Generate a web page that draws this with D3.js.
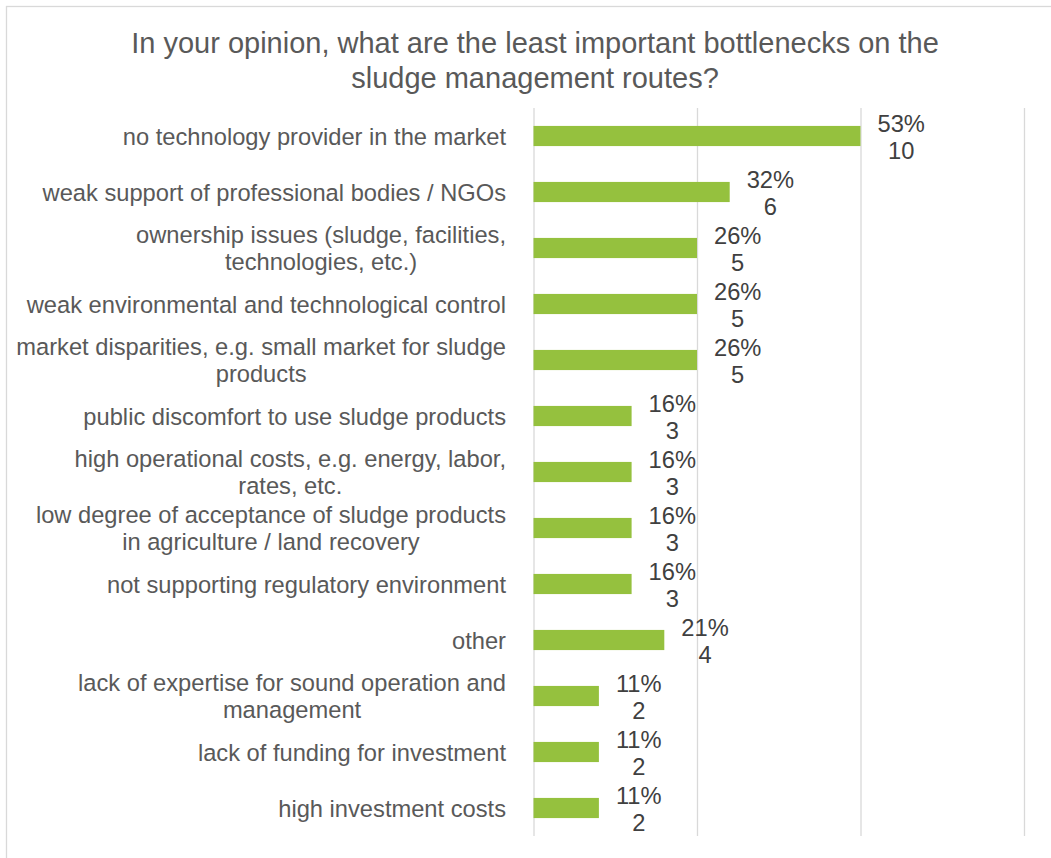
<!DOCTYPE html>
<html>
<head>
<meta charset="utf-8">
<script src="https://cdn.jsdelivr.net/npm/d3@7"></script>
<style>
  html, body { margin: 0; padding: 0; background: #ffffff; }
  svg { display: block; }
  text { font-family: "Liberation Sans", Arial, sans-serif; }
</style>
</head>
<body>
<svg id="chart" width="1051" height="858"></svg>
<script>
// Survey answers: least important bottlenecks on the sludge management routes
const titleLines = [
  "In your opinion, what are the least important bottlenecks on the",
  "sludge management routes?"
];
const categories = [
  "no technology provider in the market",
  "weak support of professional bodies / NGOs",
  "ownership issues (sludge, facilities,\ntechnologies, etc.)",
  "weak environmental and technological control",
  "market disparities, e.g. small market for sludge\nproducts",
  "public discomfort to use sludge products",
  "high operational costs, e.g. energy, labor,\nrates, etc.",
  "low degree of acceptance of sludge products\nin agriculture / land recovery",
  "not supporting regulatory environment",
  "other",
  "lack of expertise for sound operation and\nmanagement",
  "lack of funding for investment",
  "high investment costs"
];
const counts = [10, 6, 5, 5, 5, 3, 3, 3, 3, 4, 2, 2, 2];
const percents = ["53%", "32%", "26%", "26%", "26%", "16%", "16%", "16%", "16%", "21%", "11%", "11%", "11%"];
const gridTicks = [0, 5, 10, 15];

const svg = d3.select("#chart");
const plot = { left: 533.5, right: 1024, top: 108, bottom: 836 };

// chart frame (left and top edges visible)
svg.append("rect")
  .attr("x", 6.5).attr("y", 6.5)
  .attr("width", 1200).attr("height", 1000)
  .attr("fill", "none").attr("stroke", "#d9d9d9").attr("stroke-width", 1.3);

// title
svg.append("text")
  .attr("x", 535).attr("y", 53)
  .attr("text-anchor", "middle")
  .attr("fill", "#595959")
  .style("font-size", "29px")
  .selectAll("tspan").data(titleLines).join("tspan")
  .attr("x", 535)
  .attr("dy", (d, i) => i === 0 ? 0 : 35)
  .text(d => d);

const x = d3.scaleLinear().domain([0, 15]).range([plot.left, plot.right]);
const y = d3.scaleBand().domain(categories)
  .range([plot.top, plot.bottom])
  .paddingInner(0.64).paddingOuter(0.32);

// vertical gridlines
svg.append("g")
  .attr("transform", `translate(0,${plot.bottom})`)
  .call(d3.axisBottom(x).tickValues(gridTicks).tickSize(-(plot.bottom - plot.top)).tickFormat(""))
  .call(g => g.select(".domain").remove())
  .call(g => g.selectAll(".tick line").attr("stroke", "#d9d9d9").attr("stroke-width", 1.3));

// bars
svg.append("g").selectAll("rect")
  .data(categories)
  .join("rect")
  .attr("x", x(0))
  .attr("y", d => y(d))
  .attr("width", (d, i) => x(counts[i]) - x(0))
  .attr("height", y.bandwidth())
  .attr("fill", "#95c13e");

// category labels, wrapped lines centred within a right-aligned block
const labelRight = 506;
const lineH = 27;
const catG = svg.append("g").style("font-size", "23.7px").attr("fill", "#595959");
categories.forEach(c => {
  const lines = c.split("\n");
  const cy = y(c) + y.bandwidth() / 2;
  const t = catG.append("text").attr("text-anchor", "middle");
  const spans = t.selectAll("tspan").data(lines).join("tspan").text(d => d);
  const widths = spans.nodes().map(n => n.getComputedTextLength());
  const w = d3.max(widths);
  const cx = labelRight - w / 2;
  const y0 = cy + 8.5 - (lines.length - 1) * lineH / 2;
  spans.attr("x", cx).attr("y", (d, i) => y0 + i * lineH);
});

// data labels: percentage above count, block starting just right of the bar
const valG = svg.append("g").style("font-size", "23.7px").attr("fill", "#404040");
categories.forEach((c, i) => {
  const cy = y(c) + y.bandwidth() / 2;
  const lines = [percents[i], String(counts[i])];
  const t = valG.append("text").attr("text-anchor", "middle");
  const spans = t.selectAll("tspan").data(lines).join("tspan").text(d => d);
  const w = d3.max(spans.nodes().map(n => n.getComputedTextLength()));
  const cx = x(counts[i]) + 17 + w / 2;
  spans.attr("x", cx).attr("y", (d, j) => cy - 4.5 + j * 27);
});
</script>
</body>
</html>
